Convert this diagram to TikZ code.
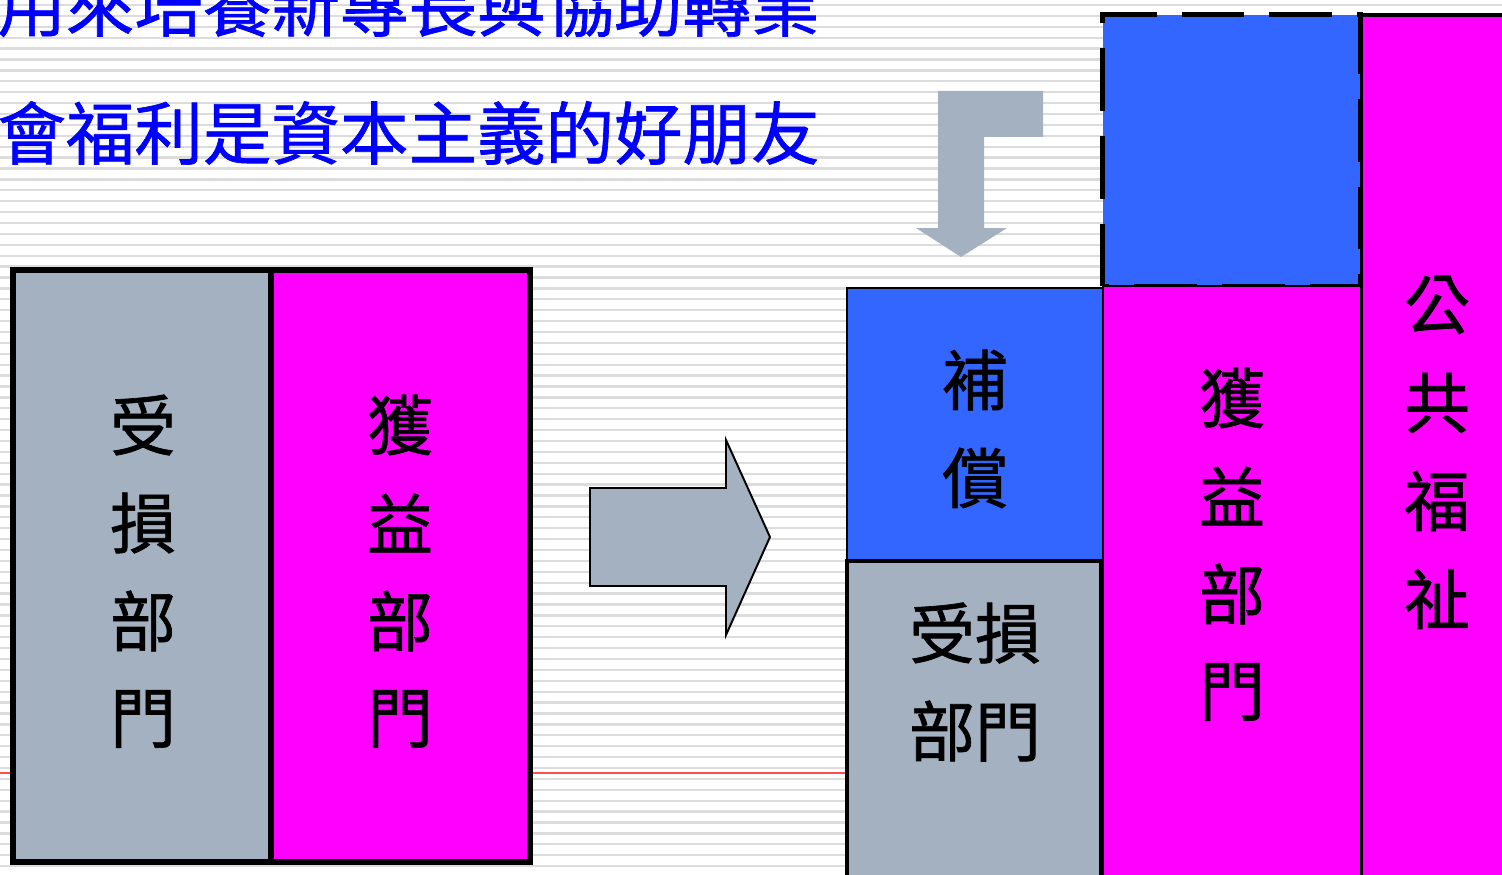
\documentclass[tikz,border=0pt]{standalone}
\usepackage{fontspec}
\newfontfamily\zhfont[FakeBold=1]{Noto Sans CJK TC}
\usetikzlibrary{fit}
\definecolor{lossgray}{HTML}{A3B1C0}
\definecolor{gainpink}{HTML}{FF00FF}
\definecolor{aidblue}{HTML}{3366FF}
\definecolor{titleblue}{HTML}{0000FF}
\definecolor{stripe}{HTML}{DCDCDC}
\tikzset{
  box/.style={draw=black,inner sep=0pt,line width=#1},
  box/.default=3.4pt,
  glyph/.style={font=\zhfont\fontsize{37.5}{40}\selectfont,inner sep=0pt},
  titletext/.style={font=\zhfont\fontsize{39}{42}\selectfont,text=titleblue,inner sep=0pt,anchor=east}
}
\begin{document}
\begin{tikzpicture}[x=0.02cm,y=-0.02cm]
\def\pitch{98}
\useasboundingbox (0,0) rectangle (1502,875);
\clip (0,0) rectangle (1502,875);

\foreach \n in {0,...,80}
{
\draw[stripe,line width=1.3pt] (0,5+10.9*\n) -- (1502,5+10.9*\n);
}
\draw[red!70,line width=0.6pt] (0,773) -- (845,773);

\node (title1) [titletext] at (820,5) {用來培養新專長與協助轉業};
\node (title2) [titletext] at (820,133) {會福利是資本主義的好朋友};

% before
\node (loss) [box,fill=lossgray,fit={(13,270) (271,862)}]{};
\node (gain) [box,fill=gainpink,fit={(271,270) (530,862)}]{};

\foreach \c [count=\i from 0] in {受,損,部,門}
{
\node (loss\i) [glyph] at (143,425+\pitch*\i){\c};
}
\foreach \c [count=\i from 0] in {獲,益,部,門}
{
\node (gain\i) [glyph] at (400,425+\pitch*\i){\c};
}

\filldraw[fill=lossgray,draw=black,line width=1.1pt] (590,488) -- (726,488) -- (726,440) -- (770,537) -- (726,635) -- (726,586) -- (590,586) -- cycle;

\fill[lossgray] (938,91) -- (1043,91) -- (1043,137) -- (984,137) -- (984,228) -- (1007,228) -- (961,257) -- (916,228) -- (938,228) -- cycle;

% after
\node (public) [box=2.3pt,fill=gainpink,fit={(1361,15) (1540,900)}]{};
\node (tax) [fill=aidblue,inner sep=0pt,fit={(1103,15) (1360,286)}]{};
\draw[line width=3pt,dash pattern=on 35.7pt off 14.2pt] (tax.south west) -- (tax.north west) -- (tax.north east) -- (tax.south east) -- cycle;
\node (gain2) [box=1.2pt,fill=gainpink,fit={(1103,286) (1361,900)}]{};
\node (aid) [box=1pt,fill=aidblue,fit={(847,288) (1103,560)}]{};
\node (loss2) [box=2.6pt,fill=lossgray,fit={(847,561) (1101,900)}]{};

\foreach \c [count=\i from 0] in {公,共,福,祉}
{
\node (public\i) [glyph] at (1437,305+\pitch*\i){\c};
}
\foreach \c [count=\i from 0] in {獲,益,部,門}
{
\node (gainR\i) [glyph] at (1232,398+\pitch*\i){\c};
}
\foreach \c [count=\i from 0] in {補,償}
{
\node (aid\i) [glyph] at (975,380+\pitch*\i){\c};
}
\node (lossR0) [glyph] at (975,633){受損};
\node (lossR1) [glyph] at (975,731){部門};

\end{tikzpicture}
\end{document}
